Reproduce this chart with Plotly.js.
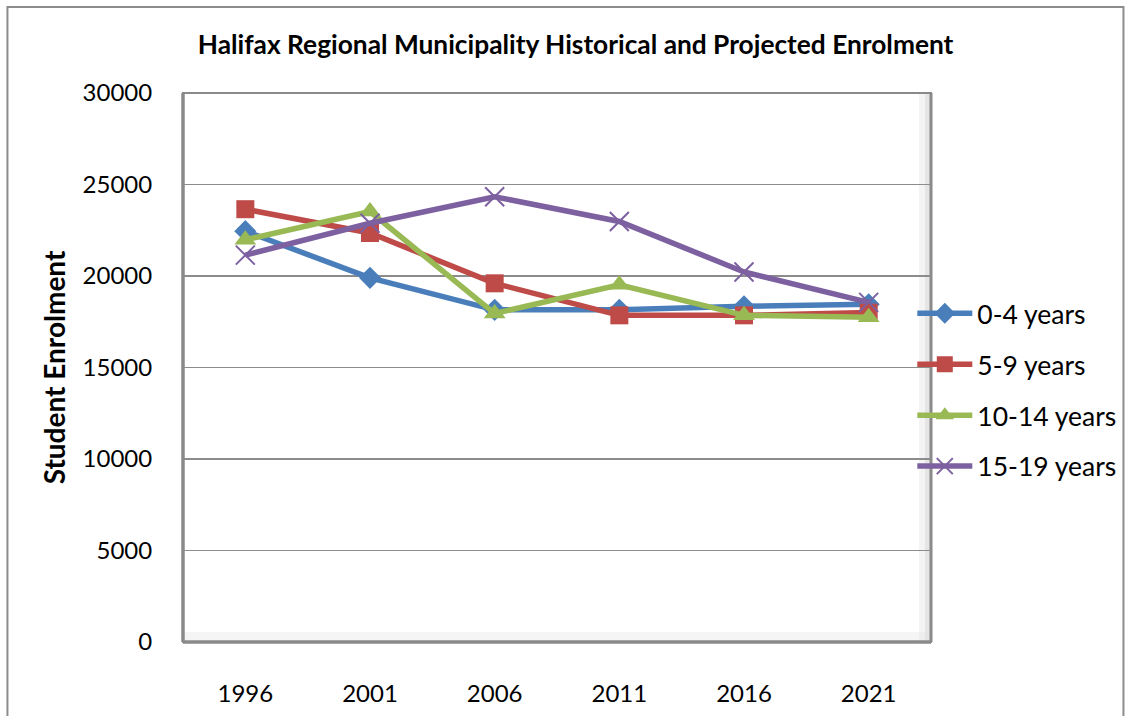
<!DOCTYPE html>
<html>
<head>
<meta charset="utf-8">
<script src="https://cdn.plot.ly/plotly-3.0.1.min.js"></script>
<style>
html,body{margin:0;padding:0;background:#fff;}
#chart{width:1133px;height:716px;}
</style>
</head>
<body>
<div id="chart"></div>
<script>
const years = ['1996', '2001', '2006', '2011', '2016', '2021'];
const age0to4 = [22450, 19900, 18150, 18150, 18350, 18450];
const age5to9 = [23650, 22350, 19600, 17850, 17850, 18000];
const age10to14 = [21980, 23520, 17950, 19520, 17850, 17750];
const age15to19 = [21140, 22880, 24330, 22980, 20220, 18560];
const seriesNames = ['0-4 years', '5-9 years', '10-14 years', '15-19 years'];
const yTicks = [0, 5000, 10000, 15000, 20000, 25000, 30000];

const FONT = 'Lato, "Open Sans", sans-serif';
const colors = ['#4A7EBB', '#BE4B48', '#98B954', '#7D60A0'];
const symbols = ['diamond', 'square', 'triangle-up', 'x-thin'];
const sizes = [17, 18, 19, 19];
const allData = [age0to4, age5to9, age10to14, age15to19];

const traces = allData.map((vals, i) => ({
  type: 'scatter',
  mode: 'lines+markers',
  x: years,
  y: vals,
  name: seriesNames[i],
  legendgroup: 'g' + i,
  line: {color: colors[i], width: 5.5},
  marker: {
    symbol: symbols[i],
    size: sizes[i],
    color: colors[i],
    line: {color: colors[i], width: i === 3 ? 2 : 0}
  }
}));

const shapes = [
  // outer chart frame
  {type: 'rect', xref: 'paper', yref: 'paper', x0: -0.2347, x1: 1.2573, y0: -0.3, y1: 1.1566,
   line: {color: '#8c8c8c', width: 2}, fillcolor: 'rgba(0,0,0,0)', layer: 'below'},
  // right wall shading
  {type: 'rect', xref: 'paper', yref: 'paper', x0: 0.984, x1: 1.0, y0: 0, y1: 1,
   line: {width: 0}, fillcolor: 'rgba(220,220,220,0.3)', layer: 'below'},
  {type: 'rect', xref: 'paper', yref: 'paper', x0: 0.992, x1: 1.0, y0: 0, y1: 1,
   line: {width: 0}, fillcolor: 'rgba(200,200,200,0.35)', layer: 'below'},
  // floor shading
  {type: 'rect', xref: 'paper', yref: 'paper', x0: 0, x1: 1, y0: 0, y1: 0.018,
   line: {width: 0}, fillcolor: 'rgba(225,225,225,0.35)', layer: 'below'},
  // plot border
  {type: 'rect', xref: 'paper', yref: 'paper', x0: 0, x1: 1, y0: 0, y1: 1,
   line: {color: '#8a8a8a', width: 2}, fillcolor: 'rgba(0,0,0,0)', layer: 'below'},
  // thick left and bottom edges (3D wall/floor look)
  {type: 'line', xref: 'paper', yref: 'paper', x0: 0, x1: 0, y0: 0, y1: 1,
   line: {color: '#8a8a8a', width: 3.5}, layer: 'below'},
  {type: 'line', xref: 'paper', yref: 'paper', x0: 0, x1: 1, y0: 0, y1: 0,
   line: {color: '#8a8a8a', width: 3.5}, layer: 'below'},
  {type: 'line', xref: 'paper', yref: 'paper', x0: 1, x1: 1, y0: 0, y1: 1,
   line: {color: '#8a8a8a', width: 3}, layer: 'below'}
];

const layout = {
  width: 1133,
  height: 716,
  margin: {l: 183, r: 200, t: 93, b: 74},
  paper_bgcolor: '#ffffff',
  plot_bgcolor: '#ffffff',
  font: {family: FONT, color: '#000000', size: 24},
  title: {
    text: '<b>Halifax Regional Municipality Historical and Projected Enrolment</b>',
    font: {family: FONT, size: 26.3, color: '#000000'},
    x: 0.508, xref: 'container', xanchor: 'center',
    y: 1 - 45 / 716, yref: 'container', yanchor: 'middle'
  },
  xaxis: {
    type: 'category',
    range: [-0.5, 5.5],
    showgrid: false,
    zeroline: false,
    showline: false,
    ticks: 'outside',
    ticklen: 30,
    tickcolor: 'rgba(0,0,0,0)',
    tickfont: {family: FONT, size: 24, color: '#000'},
    fixedrange: true
  },
  yaxis: {
    range: [0, 30000],
    tickvals: yTicks,
    ticktext: yTicks.map(String),
    showgrid: true,
    gridcolor: '#8c8c8c',
    gridwidth: 1.6,
    zeroline: false,
    showline: false,
    ticks: 'outside',
    ticklen: 25,
    tickcolor: 'rgba(0,0,0,0)',
    tickfont: {family: FONT, size: 24, color: '#000'},
    title: {
      text: '<b>Student Enrolment</b>',
      font: {family: FONT, size: 28, color: '#000'},
      standoff: 8
    },
    fixedrange: true
  },
  legend: {
    x: 0.975, xanchor: 'left',
    y: 0.642, yanchor: 'top',
    itemwidth: 55,
    font: {family: FONT, size: 26.5, color: '#000'},
    tracegroupgap: 13.5,
    bgcolor: 'rgba(0,0,0,0)'
  },
  shapes: shapes,
  showlegend: true
};

Plotly.newPlot('chart', traces, layout, {displayModeBar: false, staticPlot: true});
</script>
</body>
</html>
